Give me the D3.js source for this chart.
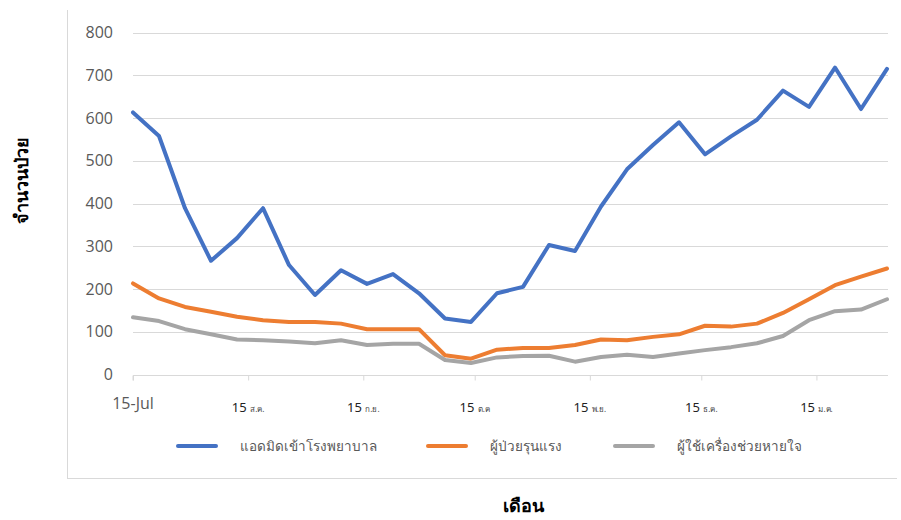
<!DOCTYPE html>
<html>
<head>
<meta charset="utf-8">
<script src="https://cdn.jsdelivr.net/npm/d3@7"></script>
<style>
  html, body { margin: 0; padding: 0; background: #fff; }
  svg { display: block; font-family: "Noto Sans", "Liberation Sans", sans-serif; }
</style>
</head>
<body>
<svg id="chart" width="901" height="520"></svg>
<script>
// ---- data ----
const dates = ["2021-07-15","2021-07-22","2021-07-29","2021-08-05","2021-08-12","2021-08-19","2021-08-26",
  "2021-09-02","2021-09-09","2021-09-16","2021-09-23","2021-09-30","2021-10-07","2021-10-14","2021-10-21",
  "2021-10-28","2021-11-04","2021-11-11","2021-11-18","2021-11-25","2021-12-02","2021-12-09","2021-12-16",
  "2021-12-23","2021-12-30","2022-01-06","2022-01-13","2022-01-20","2022-01-27","2022-02-03"];
const admitted = [613,558,389,266,319,389,256,186,244,212,235,190,131,123,190,205,303,289,393,480,537,590,515,557,596,664,626,718,621,715];
const severe   = [213,178,158,147,135,127,123,123,119,106,106,106,45,37,58,62,62,69,82,80,88,94,114,112,119,144,176,209,229,248];
const ventilator = [134,125,106,94,82,80,77,73,80,69,72,72,34,27,40,43,44,30,41,46,41,49,57,64,73,90,127,148,152,176];
const seriesNames = ["แอดมิดเข้าโรงพยาบาล","ผู้ป่วยรุนแรง","ผู้ใช้เครื่องช่วยหายใจ"];
const xTickDates = ["2021-07-15","2021-08-15","2021-09-15","2021-10-15","2021-11-15","2021-12-15","2022-01-15"];
const xTickNums = ["15-Jul","15","15","15","15","15","15"];
const xTickThai = ["","ส.ค.","ก.ย.","ต.ค","พ.ย.","ธ.ค.","ม.ค."];
const yTicks = [0,100,200,300,400,500,600,700,800];
const yTitle = "จำนวนป่วย";
const xTitle = "เดือน";

// ---- setup ----
const svg = d3.select("#chart");
const parse = d3.utcParse("%Y-%m-%d");
const colors = ["#4472C4", "#ED7D31", "#A5A5A5"];
const seriesData = [admitted, severe, ventilator];

const x = d3.scaleUtc().domain([parse(dates[0]), parse(dates[dates.length - 1])]).range([133, 887]);
const y = d3.scaleLinear().domain([0, 800]).range([374.5, 32.5]);

// chart frame (left & bottom borders)
svg.append("line").attr("x1", 67.5).attr("x2", 67.5).attr("y1", 10).attr("y2", 479)
  .attr("stroke", "#d9d9d9").attr("stroke-width", 1);
svg.append("line").attr("x1", 67.5).attr("x2", 897).attr("y1", 478.5).attr("y2", 478.5)
  .attr("stroke", "#d9d9d9").attr("stroke-width", 1);

// gridlines
svg.append("g").selectAll("line").data(yTicks.slice(1)).join("line")
  .attr("x1", 133).attr("x2", 888)
  .attr("y1", d => Math.round(y(d)) + 0.5).attr("y2", d => Math.round(y(d)) + 0.5)
  .attr("stroke", "#d9d9d9").attr("stroke-width", 1);

// y axis labels
const yAxis = d3.axisLeft(y).tickValues(yTicks).tickSize(0).tickPadding(0);
const gy = svg.append("g").attr("transform", "translate(113,0)").call(yAxis);
gy.select(".domain").remove();
gy.selectAll("text").attr("font-size", 16).attr("fill", "#595959")
  .attr("font-family", "'Open Sans', 'Noto Sans', sans-serif");

// x axis
const xAxis = d3.axisBottom(x).tickValues(xTickDates.map(parse)).tickSize(5).tickFormat("");
const gx = svg.append("g").attr("transform", `translate(0,${Math.round(y(0)) + 0.5})`).call(xAxis);
gx.select(".domain").attr("stroke", "#d9d9d9").attr("d", `M133,5V0H888`);
gx.selectAll(".tick line").attr("stroke", "#d9d9d9");
gx.selectAll(".tick text").remove();

// x tick labels
const labelG = svg.append("g");
xTickDates.forEach((d, i) => {
  const t = labelG.append("text")
    .attr("x", x(parse(d)))
    .attr("y", i === 0 ? 409 : 412)
    .attr("text-anchor", "middle");
  if (i === 0) {
    t.attr("font-size", 16).attr("fill", "#595959")
      .attr("font-family", "'Open Sans', 'Noto Sans', sans-serif").text(xTickNums[i]);
  } else {
    t.append("tspan").attr("font-size", 13).attr("fill", "#222").text(xTickNums[i] + " ");
    t.append("tspan").attr("font-size", 8).attr("fill", "#444").text(xTickThai[i]);
  }
});

// lines
const line = d3.line().x((d, i) => x(parse(dates[i]))).y(d => y(d)).curve(d3.curveLinear);
seriesData.forEach((s, k) => {
  svg.append("path").datum(s)
    .attr("d", line)
    .attr("fill", "none")
    .attr("stroke", colors[k])
    .attr("stroke-width", 4)
    .attr("stroke-linejoin", "round")
    .attr("stroke-linecap", "round");
});

// legend
const legendX = [178, 428, 615];
const legend = svg.append("g");
seriesNames.forEach((n, k) => {
  legend.append("line").attr("x1", legendX[k]).attr("x2", legendX[k] + 38)
    .attr("y1", 446).attr("y2", 446)
    .attr("stroke", colors[k]).attr("stroke-width", 4).attr("stroke-linecap", "round");
  legend.append("text").attr("x", legendX[k] + 62).attr("y", 451)
    .attr("font-size", 13.5).attr("fill", "#595959").text(n);
});

// axis titles
svg.append("text")
  .attr("transform", "translate(28,180) rotate(-90)")
  .attr("text-anchor", "middle")
  .attr("font-size", 18).attr("font-weight", "bold").attr("fill", "#000")
  .text(yTitle);
svg.append("text")
  .attr("x", 523).attr("y", 512)
  .attr("text-anchor", "middle")
  .attr("font-size", 18).attr("font-weight", "bold").attr("fill", "#000")
  .text(xTitle);
</script>
</body>
</html>
